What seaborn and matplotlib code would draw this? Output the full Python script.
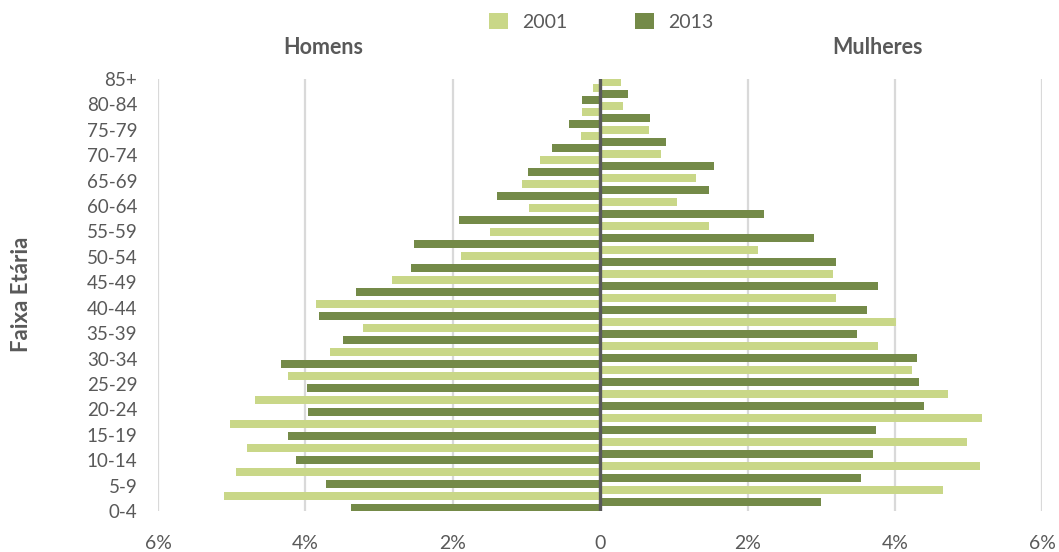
import numpy as np
import pandas as pd
import matplotlib
matplotlib.use("Agg")
import matplotlib.pyplot as plt
from matplotlib.patches import Patch
import seaborn as sns

# Age groups, youngest first
age_groups = ["0-4", "5-9", "10-14", "15-19", "20-24", "25-29", "30-34", "35-39",
              "40-44", "45-49", "50-54", "55-59", "60-64", "65-69", "70-74",
              "75-79", "80-84", "85+"]

# Share of total population (%) per age group
men_2001 = [5.11, 4.94, 4.79, 5.02, 4.69, 4.24, 3.66, 3.22, 3.85, 2.83, 1.89,
            1.49, 0.96, 1.06, 0.82, 0.26, 0.24, 0.10]
men_2013 = [3.38, 3.72, 4.13, 4.24, 3.97, 3.98, 4.33, 3.49, 3.81, 3.31, 2.57,
            2.53, 1.92, 1.40, 0.98, 0.66, 0.42, 0.24]
women_2001 = [4.65, 5.15, 4.98, 5.18, 4.72, 4.23, 3.77, 4.01, 3.20, 3.16, 2.14,
              1.48, 1.04, 1.30, 0.83, 0.66, 0.31, 0.28]
women_2013 = [3.00, 3.54, 3.70, 3.75, 4.40, 4.33, 4.30, 3.49, 3.62, 3.77, 3.20,
              2.90, 2.22, 1.48, 1.55, 0.89, 0.68, 0.38]

years = ["2001", "2013"]
x_ticks = [-6, -4, -2, 0, 2, 4, 6]
x_tick_labels = ["6%", "4%", "2%", "0", "2%", "4%", "6%"]

LIGHT = "#C9D788"
DARK = "#748A48"
TEXT = "#595959"

# Long table: men plotted to the left (negative), women to the right
rows = []
for i, g in enumerate(age_groups):
    rows.append((g, "M2001", -men_2001[i]))
    rows.append((g, "M2013", -men_2013[i]))
    rows.append((g, "F2001", women_2001[i]))
    rows.append((g, "F2013", women_2013[i]))
df = pd.DataFrame(rows, columns=["grupo", "serie", "valor"])

sns.set_theme(style="white")
plt.rcParams["font.family"] = ["Lato", "DejaVu Sans"]

fig = plt.figure(figsize=(10.59, 5.52), dpi=100)
ax = fig.add_axes([158 / 1059, 41 / 552, (1042.3 - 158) / 1059, 432 / 552])

hue_order = ["F2001", "M2001", "F2013", "M2013"]
palette = {"F2001": LIGHT, "M2001": LIGHT, "F2013": DARK, "M2013": DARK}
sns.barplot(data=df, y="grupo", x="valor", hue="serie", order=age_groups[::-1],
            hue_order=hue_order, palette=palette, width=1.0, dodge=True,
            orient="h", saturation=1, legend=False, ax=ax, linewidth=0)

# Thicken bars slightly around their centres
bar_h = 0.31
for p in ax.patches:
    cy = p.get_y() + p.get_height() / 2
    p.set_height(bar_h)
    p.set_y(cy - bar_h / 2)

ax.set_xlim(-6, 6)
ax.set_ylim(17.5, -0.5)
ax.set_xticks(x_ticks)
ax.set_xticklabels(x_tick_labels)
# Age labels spread evenly from top edge to bottom edge
ax.set_yticks(np.linspace(-0.5, 17.5, len(age_groups)))
ax.set_yticklabels(age_groups[::-1])
ax.tick_params(axis="x", length=0, pad=17, labelsize=14, labelcolor=TEXT)
ax.tick_params(axis="y", length=0, pad=15, labelsize=13.5, labelcolor=TEXT)
ax.set_xlabel("")
ax.set_ylabel("")
for s in ax.spines.values():
    s.set_visible(False)

ax.grid(axis="x", color="#D9D9D9", linewidth=1.6)
ax.grid(axis="y", visible=False)
ax.set_axisbelow(True)
ax.axvline(0, color=TEXT, linewidth=2.4, zorder=5)

fig.text(323 / 1059, 1 - 48 / 552, "Homens", ha="center", va="center",
         fontsize=15.5, fontweight="bold", color=TEXT)
fig.text(877 / 1059, 1 - 48 / 552, "Mulheres", ha="center", va="center",
         fontsize=15.5, fontweight="bold", color=TEXT)
fig.text(22 / 1059, 1 - 294 / 552, "Faixa Etária", ha="center", va="center",
         rotation=90, fontsize=16, fontweight="bold", color=TEXT)

handles = [Patch(facecolor=LIGHT, edgecolor="none"),
           Patch(facecolor=DARK, edgecolor="none")]
leg = fig.legend(handles, years, loc="center", bbox_to_anchor=(601 / 1059, 1 - 22 / 552),
                 ncol=2, frameon=False, fontsize=14, handlelength=1.0,
                 handleheight=0.9, handletextpad=0.7, columnspacing=3.5,
                 borderpad=0, borderaxespad=0)
for t in leg.get_texts():
    t.set_color(TEXT)

fig.savefig("out.png", dpi=100)
